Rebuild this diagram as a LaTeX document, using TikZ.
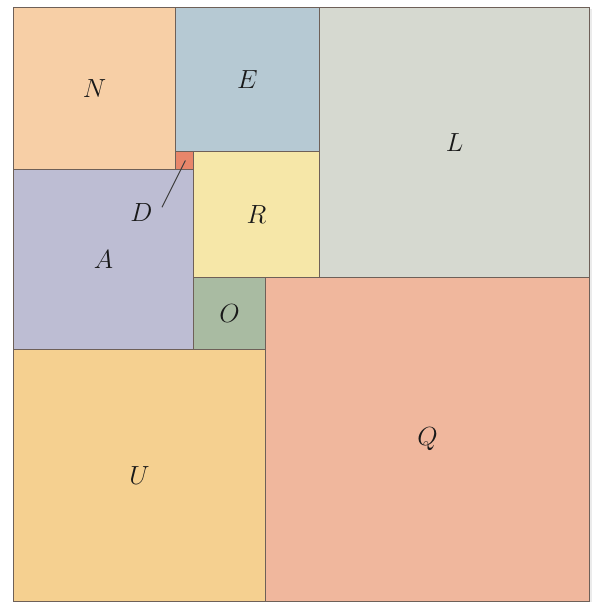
\documentclass[tikz,border=0pt]{standalone}
\usepackage{fontspec}
\begin{document}
\definecolor{cN}{HTML}{F7CFA6}
\definecolor{cE}{HTML}{B6C9D3}
\definecolor{cL}{HTML}{D6D9D0}
\definecolor{cD}{HTML}{E8866A}
\definecolor{cR}{HTML}{F6E7A8}
\definecolor{cA}{HTML}{BDBDD3}
\definecolor{cO}{HTML}{A9BBA2}
\definecolor{cQ}{HTML}{F0B79D}
\definecolor{cU}{HTML}{F5D090}
\definecolor{edge}{HTML}{6E6058}
\begin{tikzpicture}[x=0.5cm,y=0.5cm,
  sq/.style={draw=edge,line width=1.4pt},
  lbl/.style={font=\fontsize{21}{24}\selectfont,text=black!90}]
\useasboundingbox (-0.75,-0.083) rectangle (32.25,33.417);
\fill[black!8] (0.1,-0.05) rectangle (32.15,32.9);
\filldraw[sq,fill=cN] (0,24) rectangle (9,33);
\filldraw[sq,fill=cE] (9,25) rectangle (17,33);
\filldraw[sq,fill=cL] (17,18) rectangle (32,33);
\filldraw[sq,fill=cD] (9,24) rectangle (10,25);
\filldraw[sq,fill=cR] (10,18) rectangle (17,25);
\filldraw[sq,fill=cA] (0,14) rectangle (10,24);
\filldraw[sq,fill=cO] (10,14) rectangle (14,18);
\filldraw[sq,fill=cQ] (14,0) rectangle (32,18);
\filldraw[sq,fill=cU] (0,0) rectangle (14,14);
\node[lbl] (nN) at (4.5,28.5) {$N$};
\node[lbl] (nE) at (13,29) {$E$};
\node[lbl] (nL) at (24.5,25.5) {$L$};
\node[lbl] (nR) at (13.5,21.5) {$R$};
\node[lbl] (nA) at (5,19) {$A$};
\node[lbl] (nO) at (12,16) {$O$};
\node[lbl] (nQ) at (23,9) {$Q$};
\node[lbl] (nU) at (7,7) {$U$};
\node[lbl] (nD) at (7.1,21.6) {$D$};
\coordinate (dpt) at (9.55,24.5);
\draw[black!75,line width=0.8pt] (8.25,21.9) -- (dpt);
\end{tikzpicture}
\end{document}
